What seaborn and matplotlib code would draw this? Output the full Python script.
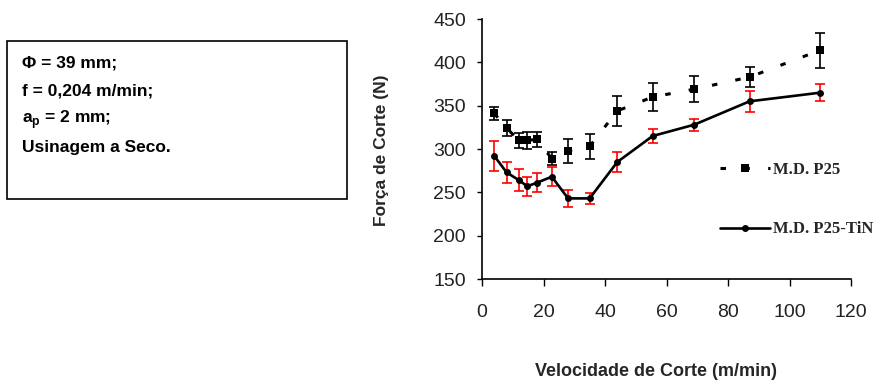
import matplotlib
matplotlib.use("Agg")
import matplotlib.pyplot as plt
import seaborn as sns
import pandas as pd
from matplotlib.lines import Line2D
from matplotlib.patches import Rectangle

# ---- data ----
vel = [4, 8, 12, 14.7, 17.8, 22.7, 28, 35, 44, 55.5, 69, 87, 110]
p25 = [341, 324, 310, 310, 311, 289, 298, 303, 344, 360, 369, 383, 414]
p25_err = [8, 9, 9, 10, 9, 8, 14, 14, 17, 16, 15, 12, 20]
tin = [292, 273, 264, 257, 261, 268, 243, 243, 285, 315, 328, 355, 365]
tin_err = [17, 12, 13, 11, 11, 11, 10, 6, 11, 8, 7, 12, 10]
labels = ["M.D. P25", "M.D. P25-TiN"]
xticks = [0, 20, 40, 60, 80, 100, 120]
yticks = [150, 200, 250, 300, 350, 400, 450]
box_lines = ["\u03a6 = 39 mm;", "f = 0,204 m/min;", r"a$_\mathbf{p}$ = 2 mm;", "Usinagem a Seco."]

sns.set_theme(style="ticks")
plt.rcParams['font.family'] = ['Liberation Sans', 'DejaVu Sans']
plt.rcParams['mathtext.fontset'] = 'custom'
plt.rcParams['mathtext.rm'] = 'Liberation Sans'
plt.rcParams['mathtext.bf'] = 'Liberation Sans:bold'

W, H = 896, 383
fig = plt.figure(figsize=(W / 100, H / 100), dpi=100)
ax = fig.add_axes([482 / W, 1 - 279 / H, (851 - 482) / W, (279 - 19) / H])

df1 = pd.DataFrame({"v": vel, "F": p25})
df2 = pd.DataFrame({"v": vel, "F": tin})

dash = (0, (1.8, 6))

ax.errorbar(vel, p25, yerr=p25_err, fmt="none", ecolor="black", elinewidth=1.2,
            capsize=3.5, capthick=1.2, zorder=2)
ax.errorbar(vel, tin, yerr=tin_err, fmt="none", ecolor="#ff0000", elinewidth=1.2,
            capsize=3.5, capthick=1.2, zorder=2)

sns.lineplot(data=df1, x="v", y="F", ax=ax, color="black", linewidth=2.2,
             marker="s", markersize=6, markeredgewidth=0, sort=False,
             errorbar=None, linestyle=dash, zorder=3)
sns.lineplot(data=df2, x="v", y="F", ax=ax, color="black", linewidth=1.9,
             marker="o", markersize=5, markeredgewidth=0, sort=False,
             errorbar=None, zorder=3)

ax.set_xlim(0, 120)
ax.set_ylim(150, 450)
ax.set_xticks(xticks)
ax.set_yticks(yticks)
ax.tick_params(axis="x", labelsize=14, length=5, width=1, pad=13, color="black")
ax.tick_params(axis="y", labelsize=14, length=3.5, width=1, pad=8, color="black")
for lab in ax.get_xticklabels() + ax.get_yticklabels():
    lab.set_color("#222222")
sns.despine(ax=ax)
for s in ["left", "bottom"]:
    ax.spines[s].set_color("black")
    ax.spines[s].set_linewidth(1.2)

ax.set_xlabel("Velocidade de Corte (m/min)", fontsize=13, fontweight="bold")
ax.set_ylabel("Força de Corte (N)", fontsize=12.5, fontweight="bold")
ax.xaxis.label.set_va("center")
ax.yaxis.label.set_va("center")
ax.xaxis.set_label_coords((656 - 482) / (851 - 482), (279 - 372) / (279 - 19))
ax.yaxis.set_label_coords((381 - 482) / (851 - 482), (279 - 150) / (279 - 19))

handles = [
    Line2D([], [], color="black", linewidth=2.2, linestyle=dash,
           marker="s", markersize=6, markeredgewidth=0),
    Line2D([], [], color="black", linewidth=1.9, marker="o", markersize=5,
           markeredgewidth=0),
]
leg = fig.legend(handles, labels, loc="upper left",
                 bbox_to_anchor=(720 / W, 1 - 162 / H), frameon=False,
                 prop={"family": "Liberation Serif", "weight": "bold", "size": 12},
                 handlelength=3.0, handletextpad=0.15, labelspacing=2.6,
                 borderpad=0, borderaxespad=0)

# info box
fig.add_artist(Rectangle((7 / W, 1 - 199 / H), (347 - 7) / W, (199 - 41) / H,
                         transform=fig.transFigure, fill=False,
                         edgecolor="black", linewidth=1.2))
ys = [63, 91, 120, 148]
for txt, y in zip(box_lines, ys):
    fig.text(22 / W, 1 - y / H, txt, fontsize=12.5, fontweight="bold",
             ha="left", va="center", color="black")

fig.savefig("out.png", dpi=100)
